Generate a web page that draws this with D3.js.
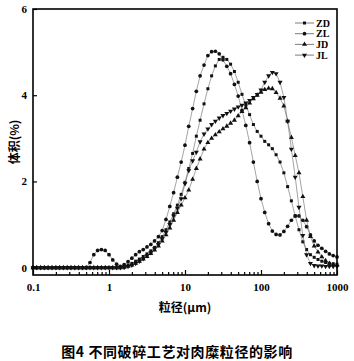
<!DOCTYPE html>
<html>
<head>
<meta charset="utf-8">
<script src="https://cdn.jsdelivr.net/npm/d3@7"></script>
<style>
  body { margin: 0; background: #fff; }
  .tick text { font-family: "Liberation Serif", serif; font-weight: bold; font-size: 11px; }
</style>
</head>
<body>
<div id="vis"></div>
<script>
// chart frame
const FRAME_WIDTH = 354;
const FRAME_HEIGHT = 361;
const PLOT = {left: 33, right: 337, top: 9, bottom: 275};

// particle size classes (um)
const SIZES = [0.100, 0.112, 0.126, 0.141, 0.158, 0.178, 0.200, 0.224, 0.251, 0.282,
  0.316, 0.355, 0.398, 0.447, 0.501, 0.562, 0.631, 0.708, 0.794, 0.891,
  1.00, 1.12, 1.26, 1.41, 1.58, 1.78, 2.00, 2.24, 2.51, 2.82,
  3.16, 3.55, 3.98, 4.47, 5.01, 5.62, 6.31, 7.08, 7.94, 8.91,
  10.0, 11.2, 12.6, 14.1, 15.8, 17.8, 20.0, 22.4, 25.1, 28.2,
  31.6, 35.5, 39.8, 44.7, 50.1, 56.2, 63.1, 70.8, 79.4, 89.1,
  100, 112, 126, 141, 158, 178, 200, 224, 251, 282,
  316, 355, 398, 447, 501, 562, 631, 708, 794, 891, 1000];

// volume (%) per size class
const ZD = [0, 0, 0, 0, 0, 0, 0, 0, 0, 0,
  0, 0, 0, 0, 0, 0, 0, 0, 0, 0,
  0, 0, 0, 0.01, 0.03, 0.06, 0.10, 0.15, 0.20, 0.26,
  0.32, 0.39, 0.47, 0.58, 0.72, 0.88, 1.06, 1.25, 1.45, 1.70,
  1.98, 2.30, 2.65, 3.05, 3.42, 3.80, 4.15, 4.45, 4.68, 4.83,
  4.88, 4.83, 4.72, 4.55, 4.30, 4.02, 3.77, 3.55, 3.32, 3.16,
  3.05, 2.93, 2.85, 2.76, 2.62, 2.45, 2.20, 1.88, 1.55, 1.20,
  0.88, 0.60, 0.42, 0.30, 0.24, 0.19, 0.15, 0.12, 0.10, 0.09, 0.08];

const ZL = [0, 0, 0, 0, 0, 0, 0, 0, 0, 0,
  0, 0, 0, 0, 0, 0.12, 0.30, 0.40, 0.42, 0.40,
  0.30, 0.18, 0.08, 0.03, 0.07, 0.14, 0.22, 0.30, 0.37, 0.42,
  0.48, 0.54, 0.62, 0.72, 0.86, 1.12, 1.42, 1.74, 2.10, 2.45,
  2.84, 3.28, 3.69, 4.09, 4.45, 4.70, 4.92, 5.01, 5.02, 4.96,
  4.82, 4.67, 4.50, 4.25, 3.98, 3.65, 3.30, 2.90, 2.45, 2.00,
  1.60, 1.28, 1.02, 0.85, 0.77, 0.76, 0.84, 0.96, 1.10, 1.20,
  1.20, 1.10, 0.95, 0.76, 0.62, 0.52, 0.45, 0.38, 0.32, 0.28, 0.25];

const JD = [0, 0, 0, 0, 0, 0, 0, 0, 0, 0,
  0, 0, 0, 0, 0, 0, 0, 0, 0, 0,
  0, 0, 0, 0, 0.01, 0.03, 0.06, 0.10, 0.15, 0.20,
  0.26, 0.33, 0.41, 0.50, 0.62, 0.76, 0.92, 1.10, 1.28, 1.45,
  1.62, 1.80, 2.05, 2.30, 2.52, 2.75, 2.90, 3.00, 3.08, 3.15,
  3.22, 3.28, 3.35, 3.42, 3.52, 3.62, 3.71, 3.82, 3.92, 4.00,
  4.07, 4.13, 4.16, 4.15, 4.06, 3.93, 3.75, 3.40, 3.02, 2.60,
  2.20, 1.65, 1.10, 0.72, 0.50, 0.36, 0.25, 0.16, 0.10, 0.07, 0.06];

const JL = [0, 0, 0, 0, 0, 0, 0, 0, 0, 0,
  0, 0, 0, 0, 0, 0, 0, 0, 0, 0,
  0, 0, 0, 0, 0.01, 0.03, 0.06, 0.10, 0.15, 0.21,
  0.28, 0.35, 0.44, 0.54, 0.67, 0.82, 1.00, 1.20, 1.38, 1.60,
  1.95, 2.25, 2.48, 2.68, 2.92, 3.10, 3.22, 3.32, 3.40, 3.47,
  3.53, 3.58, 3.63, 3.68, 3.73, 3.77, 3.82, 3.88, 3.95, 4.02,
  4.12, 4.30, 4.45, 4.53, 4.50, 4.30, 3.95, 3.40, 2.75, 2.10,
  1.40, 0.75, 0.30, 0.10, 0.05, 0.04, 0.04, 0.03, 0.03, 0.03, 0.03];

const SERIES_NAMES = ["ZD", "ZL", "JD", "JL"];
const SERIES_VALUES = [ZD, ZL, JD, JL];

const X_TICKS = [0.1, 1, 10, 100, 1000];
const X_TICK_LABELS = ["0.1", "1", "10", "100", "1000"];
const Y_TICKS = [0, 2, 4, 6];

const FRAME1 = d3.select("#vis")
                  .append("svg")
                    .attr("width", FRAME_WIDTH)
                    .attr("height", FRAME_HEIGHT);

const X_SCALE = d3.scaleLog()
                  .domain([0.1, 1000])
                  .range([PLOT.left, PLOT.right]);

const Y_SCALE = d3.scaleLinear()
                  .domain([-0.17, 6])
                  .range([PLOT.bottom, PLOT.top]);

// marker shapes, same order as the series
const SYMBOLS = [
  d3.symbol().type(d3.symbolSquare).size(9),
  d3.symbol().type(d3.symbolCircle).size(11),
  d3.symbol().type(d3.symbolTriangle).size(11),
  d3.symbol().type(d3.symbolTriangle).size(11)
];
const ROTATE = [0, 0, 0, 180];

// lines then markers
SERIES_VALUES.forEach((vals, i) => {
  const pts = SIZES.map((s, j) => ({x: s, y: vals[j]}));

  FRAME1.append("path")
      .datum(pts)
      .attr("fill", "none")
      .attr("stroke", "#666")
      .attr("stroke-width", 0.6)
      .attr("d", d3.line()
                   .x((d) => X_SCALE(d.x))
                   .y((d) => Y_SCALE(d.y)));

  FRAME1.selectAll(".pt" + i)
      .data(pts)
      .enter()
      .append("path")
        .attr("class", "pt" + i)
        .attr("d", SYMBOLS[i])
        .attr("fill", "#111")
        .attr("transform", (d) => "translate(" + X_SCALE(d.x) + "," + Y_SCALE(d.y) + ") rotate(" + ROTATE[i] + ")");
});

// minor x ticks
const minor = [];
[0.1, 1, 10, 100].forEach((dec) => {
  for (let m = 2; m <= 9; m++) minor.push(dec * m);
});

FRAME1.append("g")
    .attr("transform", "translate(0," + PLOT.bottom + ")")
    .call(d3.axisBottom(X_SCALE).tickValues(minor).tickFormat("").tickSize(-3))
    .call((g) => g.select(".domain").remove())
    .selectAll("line").attr("stroke-width", 1.2);

// major x ticks
FRAME1.append("g")
    .attr("transform", "translate(0," + PLOT.bottom + ")")
    .call(d3.axisBottom(X_SCALE)
            .tickValues(X_TICKS)
            .tickFormat((d, i) => X_TICK_LABELS[i])
            .tickSize(-5)
            .tickPadding(8))
    .call((g) => g.select(".domain").remove())
    .selectAll("line").attr("stroke-width", 1.2);

// y axis
FRAME1.append("g")
    .attr("transform", "translate(" + PLOT.left + ",0)")
    .call(d3.axisLeft(Y_SCALE)
            .tickValues(Y_TICKS)
            .tickFormat(d3.format("d"))
            .tickSize(-4)
            .tickPadding(6))
    .call((g) => g.select(".domain").remove())
    .selectAll("line").attr("stroke-width", 1.2);

// frame
FRAME1.append("rect")
    .attr("x", PLOT.left)
    .attr("y", PLOT.top)
    .attr("width", PLOT.right - PLOT.left)
    .attr("height", PLOT.bottom - PLOT.top)
    .attr("fill", "none")
    .attr("stroke", "#000")
    .attr("stroke-width", 1.6);

// legend
SERIES_NAMES.forEach((name, i) => {
  const ly = 23 + i * 10.7;
  FRAME1.append("line")
      .attr("x1", 295).attr("x2", 314)
      .attr("y1", ly).attr("y2", ly)
      .attr("stroke", "#444")
      .attr("stroke-width", 0.7);
  FRAME1.append("path")
      .attr("d", SYMBOLS[i])
      .attr("fill", "#111")
      .attr("transform", "translate(304.5," + ly + ") rotate(" + ROTATE[i] + ")");
  FRAME1.append("text")
      .attr("x", 316)
      .attr("y", ly + 3.5)
      .attr("font-family", "Liberation Serif, serif")
      .attr("font-weight", "bold")
      .attr("font-size", "10px")
      .text(name);
});

// axis titles
FRAME1.append("text")
    .attr("transform", "translate(19,142) rotate(-90)")
    .attr("text-anchor", "middle")
    .attr("font-family", "Noto Sans CJK SC, Liberation Serif, serif")
    .attr("font-weight", "bold")
    .attr("font-size", "12px")
    .text("体积(%)");

FRAME1.append("text")
    .attr("x", 185)
    .attr("y", 312)
    .attr("text-anchor", "middle")
    .attr("font-family", "Noto Sans CJK SC, Liberation Serif, serif")
    .attr("font-weight", "bold")
    .attr("font-size", "12px")
    .text("粒径(μm)");

// caption
FRAME1.append("text")
    .attr("x", 177)
    .attr("y", 357)
    .attr("text-anchor", "middle")
    .attr("font-family", "Noto Sans CJK SC, sans-serif")
    .attr("font-weight", "bold")
    .attr("font-size", "14px")
    .attr("letter-spacing", "0.6px")
    .text("图4 不同破碎工艺对肉糜粒径的影响");
</script>
</body>
</html>
